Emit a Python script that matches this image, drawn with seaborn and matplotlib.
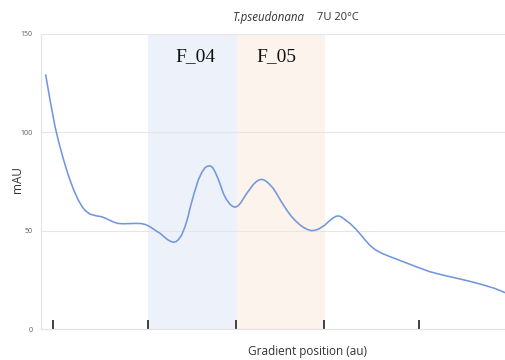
import matplotlib
matplotlib.use("Agg")
import matplotlib.pyplot as plt
import seaborn as sns
import pandas as pd

# Absorbance trace along the gradient
position = [4.7, 9, 14, 18, 22.3, 27, 32.3, 37, 41, 44, 49, 55.7, 60.7, 65, 69, 73,
            77, 82, 88, 95.7, 100, 104, 108, 112, 116, 119, 123, 127, 130, 132.3,
            135, 137.5, 140.7, 144, 147, 149, 153, 157.3, 161, 164, 166.5, 169,
            171.5, 174, 177, 180, 182.3, 185, 189, 191.5, 194, 197, 200, 202.3,
            205.5, 209, 212, 215, 218, 220.7, 223, 226, 229, 232.3, 236, 240,
            245.7, 250, 254.5, 259, 263, 267, 270.7, 274, 278, 281, 284, 288,
            292, 295, 297.3, 300, 303, 306, 309, 312, 315.7, 320, 324, 329, 334,
            340.7, 350, 362.3, 375, 389, 402, 415.7, 430, 442.3, 454, 464]
mau = [129.2, 116.5, 103.0, 94.5, 86.5, 78.6, 71.2, 65.8, 62.3, 60.3, 58.4, 57.5,
       57.1, 56.2, 55.2, 54.3, 53.7, 53.5, 53.6, 53.7, 53.6, 53.2, 52.3, 51.0,
       49.6, 48.7, 46.9, 45.3, 44.5, 44.1, 44.4, 45.5, 47.8, 52.0, 57.0, 61.4,
       68.8, 75.8, 79.8, 82.0, 82.8, 83.0, 82.2, 80.0, 76.5, 72.4, 69.0, 66.2,
       63.4, 62.4, 61.9, 62.6, 64.3, 66.2, 68.8, 71.2, 73.3, 74.8, 75.8, 76.1,
       75.8, 74.8, 73.3, 71.5, 68.5, 65.0, 60.5, 57.5, 55.0, 52.9, 51.5, 50.5,
       50.0, 50.2, 50.9, 51.9, 52.9, 54.8, 56.4, 57.3, 57.5, 57.1, 56.0, 54.8,
       53.7, 52.2, 50.3, 47.8, 45.3, 42.5, 40.4, 38.5, 36.6, 34.2, 31.7, 29.1,
       27.4, 25.8, 24.1, 22.4, 20.6, 18.5]

# Fraction windows
fractions = ["F_04", "F_05"]
fraction_start = [107, 196]
fraction_end = [196, 284]
fraction_colors = ["#edf1fa", "#fcf3ed"]
fraction_label_x = [154.5, 235]

# Unlabelled marks along the gradient axis
gradient_marks = [12, 107, 195, 283, 378]

y_ticks = [0, 50, 100, 150]

sns.set_theme(style="white")
plt.rcParams["font.family"] = ["Open Sans", "DejaVu Sans"]

fig = plt.figure(figsize=(5.05, 3.6), dpi=100)
ax = fig.add_axes([41 / 505, 1 - 329 / 360, 1 - 41 / 505, (329 - 34) / 360])

for s, e, c in zip(fraction_start, fraction_end, fraction_colors):
    ax.axvspan(s, e, color=c, zorder=0, lw=0)

df = pd.DataFrame({"position": position, "mAU": mau})
sns.lineplot(data=df, x="position", y="mAU", ax=ax, color="#7297dc",
             linewidth=1.15, zorder=3, sort=False)

for name, x in zip(fractions, fraction_label_x):
    ax.text(x, 138.3, name, ha="center", va="center", fontsize=14,
            family="Liberation Serif", color="#111111", zorder=4)

ax.set_xlim(0, 464)
ax.set_ylim(0, 150)
ax.set_yticks(y_ticks)
ax.set_yticklabels([str(v) for v in y_ticks], fontsize=5, color="#595959")
ax.yaxis.grid(True, color="#e6e6e6", linewidth=0.8, zorder=1)
ax.set_axisbelow(True)
ax.tick_params(axis="y", length=0, pad=6)

ax.set_xticks(gradient_marks)
ax.set_xticklabels([])
ax.tick_params(axis="x", direction="in", length=6.5, width=1.3, color="#333333",
               bottom=True)

for side in ["top", "right"]:
    ax.spines[side].set_visible(False)
for side in ["left", "bottom"]:
    ax.spines[side].set_color("#e3e3e3")
    ax.spines[side].set_linewidth(0.8)

ax.set_xlabel("")
ax.set_ylabel("")
fig.text(17 / 505, 1 - 180 / 360, "mAU", rotation=90, ha="center", va="center",
         fontsize=8.5, color="#333333")
fig.text(308 / 505, 1 - 352 / 360, "Gradient position (au)", ha="center",
         va="center", fontsize=8.5, color="#333333")

title_y = 1 - 18 / 360
fig.text(233 / 505, title_y, "T.pseudonana", ha="left", va="center",
         fontsize=8.3, style="italic", color="#333333")
fig.text(317 / 505, title_y, "7U 20°C", ha="left", va="center",
         fontsize=8, color="#333333")

fig.savefig("out.png", dpi=100)
